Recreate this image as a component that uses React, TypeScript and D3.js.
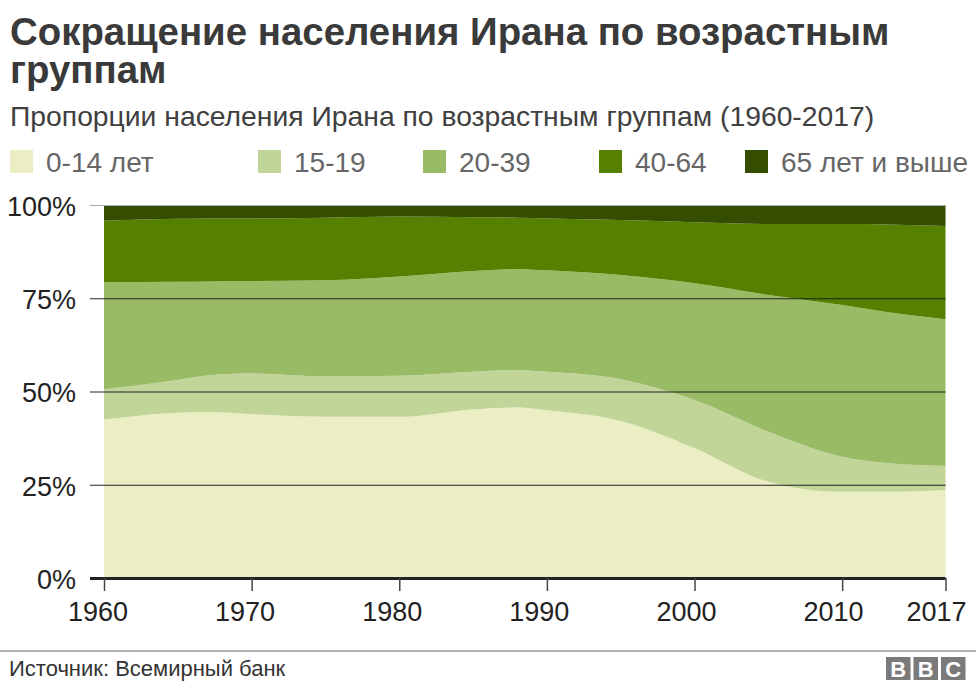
import React, { useEffect, useRef } from 'react';
import * as d3 from 'd3';

const years = [1960, 1965, 1967, 1970, 1975, 1980, 1985, 1988, 1990, 1995, 2000, 2005, 2010, 2013, 2017];

// shares of population per age group, percent
const age0to14 = [42.5, 44.3, 44.5, 43.9, 43.2, 43.2, 45.2, 45.7, 45.0, 42.1, 34.8, 25.8, 23.1, 23.1, 23.6];
const age15to19 = [8.1, 8.8, 9.8, 10.9, 10.8, 11.0, 10.1, 10.0, 10.3, 11.2, 12.9, 13.4, 9.4, 7.7, 6.4];
const age20to39 = [28.7, 26.3, 25.2, 24.8, 25.8, 26.6, 27.0, 27.1, 27.2, 27.9, 31.3, 36.7, 40.7, 40.5, 39.4];
const age40to64 = [16.5, 16.9, 16.9, 16.8, 16.8, 16.1, 14.4, 13.8, 13.9, 14.8, 16.4, 19.0, 21.7, 23.5, 25.0];
const age65plus = [4.2, 3.7, 3.6, 3.6, 3.4, 3.1, 3.3, 3.4, 3.6, 4.0, 4.6, 5.1, 5.1, 5.2, 5.6];

const groupKeys = ['a', 'b', 'c', 'd', 'e'];
const groupLabels = ['0-14 лет', '15-19', '20-39', '40-64', '65 лет и выше'];
const groupColors = ['#ebedc3', '#c2d598', '#9abb66', '#558000', '#354d00'];
const legendX = [10, 258, 423, 599, 745];

const yTicks = [0, 25, 50, 75, 100];
const xTicks = [1960, 1970, 1980, 1990, 2000, 2010, 2017];
const bbcLetters = ['B', 'B', 'C'];

const rows = years.map((year, i) => ({
    year,
    a: age0to14[i],
    b: age15to19[i],
    c: age20to39[i],
    d: age40to64[i],
    e: age65plus[i],
}));

const font = '"Liberation Sans", Arial, sans-serif';

const App: React.FC = () => {
    const svgRef = useRef<SVGSVGElement>(null);

    useEffect(() => {
        const svg = d3.select(svgRef.current);
        svg.selectAll('*').remove();
        svg.attr('font-family', font);

        const x = d3.scaleLinear().domain([1960, 2017]).range([104, 945.5]);
        const y = d3.scaleLinear().domain([0, 100]).range([578, 205]);
        // year labels sit a little left of their ticks
        const labelX = d3.scaleLinear().domain([1960, 2017]).range([97.5, 936]);

        // headings
        svg.append('text').attr('x', 10).attr('y', 45).attr('font-size', 38.4).attr('font-weight', 700)
            .attr('fill', '#3a3a3a').text('Сокращение населения Ирана по возрастным');
        svg.append('text').attr('x', 10).attr('y', 83).attr('font-size', 38.4).attr('font-weight', 700)
            .attr('fill', '#3a3a3a').text('группам');
        svg.append('text').attr('x', 10).attr('y', 126).attr('font-size', 28.3)
            .attr('fill', '#404040').text('Пропорции населения Ирана по возрастным группам (1960-2017)');

        // legend
        groupLabels.forEach((label, i) => {
            svg.append('rect').attr('x', legendX[i]).attr('y', 150).attr('width', 23).attr('height', 23)
                .attr('fill', groupColors[i]);
            svg.append('text').attr('x', legendX[i] + 36).attr('y', 172).attr('font-size', 28)
                .attr('fill', '#666').text(label);
        });

        // stacked areas
        const stacked = d3.stack<any>().keys(groupKeys)(rows);
        const area = d3.area<any>()
            .x(d => x(d.data.year))
            .y0(d => y(d[0]))
            .y1(d => y(d[1]))
            .curve(d3.curveMonotoneX);

        svg.append('g').selectAll('path')
            .data(stacked)
            .join('path')
            .attr('d', area as any)
            .attr('fill', (d, i) => groupColors[i]);

        // y axis: grid lines run across the areas
        const yAxis = d3.axisLeft(y)
            .tickValues(yTicks)
            .tickSize(855.5)
            .tickPadding(14)
            .tickFormat(d => `${d}%`);
        const yG = svg.append('g').attr('transform', 'translate(945.5,0)').call(yAxis);
        yG.select('.domain').remove();
        yG.selectAll('.tick line')
            .attr('stroke', (d: any) => (d === 100 ? '#aaa' : '#222'))
            .attr('stroke-width', (d: any) => (d === 0 ? 3 : 1));
        yG.selectAll('.tick text')
            .attr('font-family', font).attr('font-size', 27).attr('fill', '#222').attr('dy', '0.38em');

        // x axis
        const xAxis = d3.axisBottom(x)
            .tickValues(xTicks)
            .tickSize(13)
            .tickPadding(11)
            .tickFormat(d => String(d));
        const xG = svg.append('g').attr('transform', 'translate(0,578)').call(xAxis);
        xG.select('.domain').remove();
        xG.selectAll('.tick line').attr('stroke', '#444').attr('stroke-width', 1.5);
        xG.selectAll('.tick text')
            .attr('font-family', font).attr('font-size', 27).attr('fill', '#222')
            .attr('x', (d: any) => labelX(d) - x(d));

        // footer
        svg.append('line').attr('x1', 0).attr('x2', 976).attr('y1', 651).attr('y2', 651)
            .attr('stroke', '#999').attr('stroke-width', 1.5);
        svg.append('text').attr('x', 9).attr('y', 676).attr('font-size', 22)
            .attr('fill', '#333').text('Источник: Всемирный банк');

        bbcLetters.forEach((letter, i) => {
            const left = 886 + i * 27.5;
            svg.append('rect').attr('x', left).attr('y', 657).attr('width', 24.5).attr('height', 23)
                .attr('fill', '#7a7a7a');
            svg.append('text').attr('x', left + 12.25).attr('y', 676.5).attr('text-anchor', 'middle')
                .attr('font-size', 22).attr('font-weight', 700).attr('fill', '#fff').text(letter);
        });
    }, []);

    return (
        <svg
            ref={svgRef}
            width={976}
            height={690}
            style={{ position: 'absolute', left: 0, top: 0, background: '#fff' }}
        />
    );
};

export default App;
